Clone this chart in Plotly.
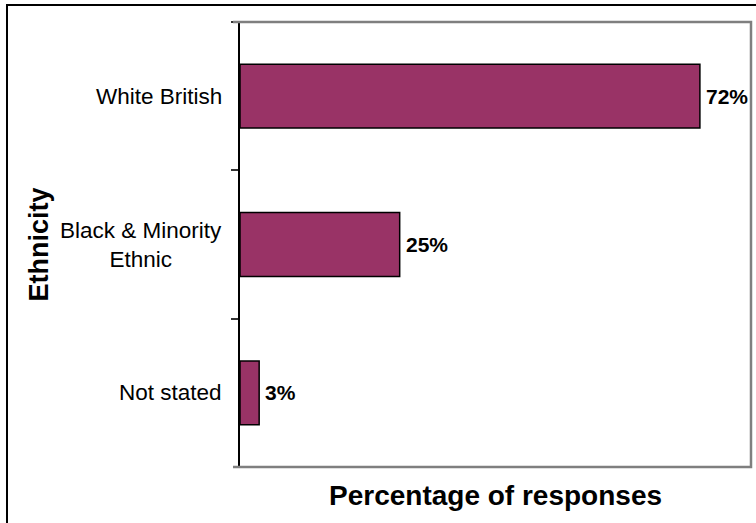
import plotly.graph_objects as go

categories = ["White British", "Black & Minority Ethnic", "Not stated"]
category_labels = ["White British", "Black & Minority<br>Ethnic", "Not stated"]
values = [72, 25, 3]
x_title = "Percentage of responses"
y_title = "Ethnicity"

FONT = "Arial, Liberation Sans, sans-serif"
W, H = 756, 523
ml, mr, mt, mb = 240, 5, 22, 56
pw, ph = W - ml - mr, H - mt - mb

fig = go.Figure()
fig.add_trace(go.Bar(
    x=values, y=categories, orientation="h",
    marker=dict(color="#993366", line=dict(color="black", width=1.5)),
    width=0.43, hoverinfo="x+y",
))

annotations = []
for cat, lab, v in zip(categories, category_labels, values):
    annotations.append(dict(
        x=0, xref="paper", y=cat, yref="y", text=lab, showarrow=False,
        xanchor="right", yanchor="middle", align="center", xshift=-16,
        font=dict(family=FONT, size=22.5, color="black"),
    ))
    annotations.append(dict(
        x=v, xref="x", y=cat, yref="y", text="<b>%d%%</b>" % v, showarrow=False,
        xanchor="left", yanchor="middle", xshift=4,
        font=dict(family=FONT, size=21, color="black"),
    ))
annotations.append(dict(
    x=(38 - ml) / pw, xref="paper", y=0.5, yref="paper", text="<b>%s</b>" % y_title,
    showarrow=False, textangle=-90, xanchor="center", yanchor="middle",
    font=dict(family=FONT, size=27, color="black"),
))
annotations.append(dict(
    x=0.5, xref="paper", y=-(495 - (mt + ph)) / ph, yref="paper", text="<b>%s</b>" % x_title,
    showarrow=False, xanchor="center", yanchor="middle",
    font=dict(family=FONT, size=28, color="black"),
))

px0 = (7 - ml) / pw
py1 = ((mt + ph) - 5) / ph
gx0 = (233 - ml) / pw
gray = "#7f7f7f"
shapes = [
    dict(type="path", xref="paper", yref="paper",
         path="M %f,1 L 1,1 L 1,0 L %f,0" % (gx0, gx0),
         line=dict(color=gray, width=2.5)),
    dict(type="path", xref="paper", yref="paper",
         path="M %f,-0.5 L %f,%f L 1.2,%f" % (px0, px0, py1, py1),
         line=dict(color="black", width=2)),
]

fig.update_layout(
    width=W, height=H, margin=dict(l=ml, r=mr, t=mt, b=mb),
    paper_bgcolor="white", plot_bgcolor="white", showlegend=False,
    annotations=annotations, shapes=shapes,
    xaxis=dict(range=[0, 80], showticklabels=False, showgrid=False, zeroline=False,
               showline=False, ticks=""),
    yaxis=dict(type="category", categoryorder="array", categoryarray=categories,
               autorange="reversed", showticklabels=False, showgrid=False, zeroline=False,
               showline=True, linecolor="black", linewidth=1.5,
               ticks="outside", ticklen=7, tickcolor="#333333", tickwidth=1.5,
               tickson="boundaries"),
)

fig.write_html("out.html", config={"displayModeBar": False},
               post_script="document.body.style.margin='0';")
